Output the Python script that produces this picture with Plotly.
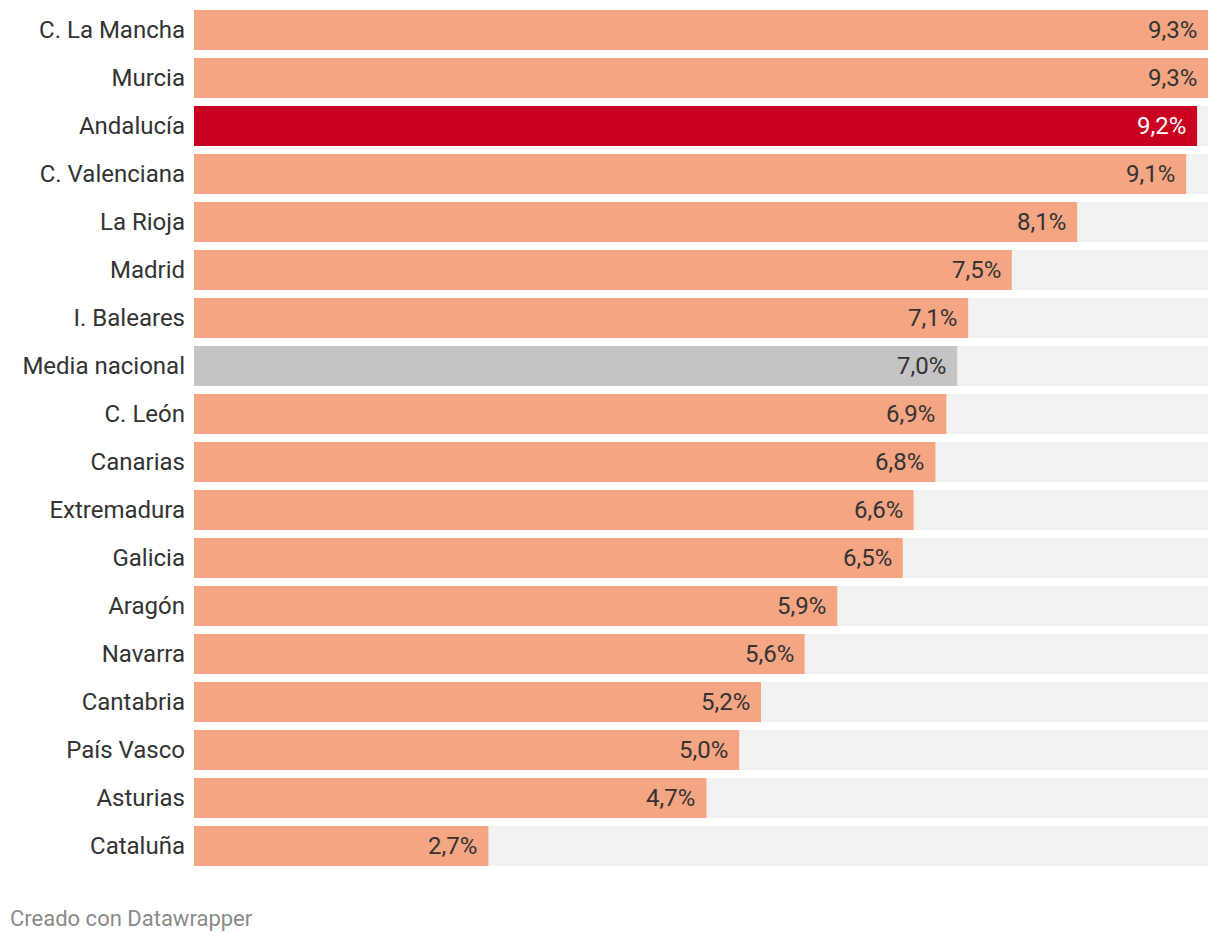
import plotly.graph_objects as go

regions = ["C. La Mancha", "Murcia", "Andalucía", "C. Valenciana", "La Rioja", "Madrid",
           "I. Baleares", "Media nacional", "C. León", "Canarias", "Extremadura", "Galicia",
           "Aragón", "Navarra", "Cantabria", "País Vasco", "Asturias", "Cataluña"]
values = [9.3, 9.3, 9.2, 9.1, 8.1, 7.5, 7.1, 7.0, 6.9, 6.8, 6.6, 6.5, 5.9, 5.6, 5.2, 5.0, 4.7, 2.7]

SALMON = "#f4a582"
RED = "#ca0020"
GREY = "#c4c4c4"
BG = "#f2f2f2"

def bar_color(r):
    if r == "Andalucía":
        return RED
    if r == "Media nacional":
        return GREY
    return SALMON

colors = [bar_color(r) for r in regions]
vmax = max(values)
n = len(regions)

fig = go.Figure()
fig.add_trace(go.Bar(
    y=regions, x=[vmax] * n, orientation="h",
    marker=dict(color=BG, line=dict(width=0)), hoverinfo="skip", showlegend=False,
))
fig.add_trace(go.Bar(
    y=regions, x=values, orientation="h",
    marker=dict(color=colors, line=dict(width=0)), showlegend=False,
))

annotations = []
for r, v in zip(regions, values):
    annotations.append(dict(
        x=v, y=r, xref="x", yref="y", text=f"{v:.1f}%".replace(".", ","),
        showarrow=False, xanchor="right", yanchor="middle", xshift=-9,
        font=dict(family="Roboto", size=24, color="#ffffff" if r == "Andalucía" else "#333333"),
    ))
annotations.append(dict(
    x=0, y=0, xref="paper", yref="paper", xanchor="left", yanchor="middle",
    xshift=-186, yshift=-48, showarrow=False, text="Creado con Datawrapper",
    font=dict(family="Roboto", size=22, color="#8a8a8a"),
))

fig.update_layout(
    width=1212, height=934,
    margin=dict(l=186, r=12, t=0, b=72),
    barmode="overlay", bargap=8 / 48,
    plot_bgcolor="white", paper_bgcolor="white",
    font=dict(family="Roboto", size=24, color="#333333"),
    xaxis=dict(range=[0, vmax], visible=False, fixedrange=True),
    yaxis=dict(range=[n - 0.5, -0.5 + 2 / 48], showgrid=False, zeroline=False, showline=False,
               ticks="", ticklabelstandoff=8, fixedrange=True,
               tickfont=dict(family="Roboto", size=24, color="#333333")),
    annotations=annotations,
)

fig.write_html("out.html")
